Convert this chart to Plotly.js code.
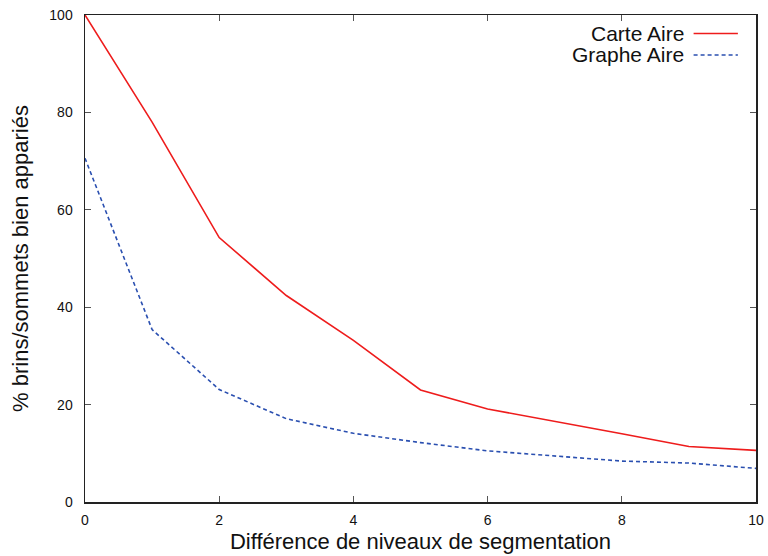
<!DOCTYPE html>
<html><head><meta charset="utf-8">
<script src="https://cdn.plot.ly/plotly-3.0.1.min.js"></script>
<style>body{margin:0;background:#fff}#c{width:768px;height:556px}</style>
</head><body><div id="c"></div>
<script>
const niveaux = [0,1,2,3,4,5,6,7,8,9,10];
const carteAire = [100,78,54.3,42.4,33.2,23,19.1,16.6,14,11.4,10.6];
const grapheAire = [70.6,35.4,23.1,17.1,14.1,12.2,10.5,9.5,8.4,8.0,6.9];
const xTicks = [0,2,4,6,8,10];
const yTicks = [0,20,40,60,80,100];

const font = {family:'"Liberation Sans", Arial, sans-serif', color:'#111'};
const traces = [
  {x:niveaux, y:carteAire, mode:'lines', name:'Carte Aire', line:{color:'#ee1c1c', width:1.6}, showlegend:false},
  {x:niveaux, y:grapheAire, mode:'lines', name:'Graphe Aire', line:{color:'#2a4fb0', width:1.6, dash:'4px,3px'}, showlegend:false}
];
const axisCommon = {showgrid:false, zeroline:false, showline:true, linecolor:'#222', linewidth:1.5,
  mirror:'ticks', ticks:'inside', ticklen:6, tickwidth:1, tickcolor:'#555', tickfont:{...font, size:14}, automargin:false};
const layout = {
  width:768, height:556,
  margin:{l:85, r:12, t:15, b:54},
  paper_bgcolor:'#fff', plot_bgcolor:'#fff',
  font:font,
  xaxis:{...axisCommon, range:[0,10], tickvals:xTicks, ticktext:xTicks.map(String), ticklabelstandoff:5,
    title:{text:'Différence de niveaux de segmentation', font:{...font, size:22}, standoff:6}},
  yaxis:{...axisCommon, range:[0,100], tickvals:yTicks, ticktext:yTicks.map(String), ticklabelstandoff:8,
    title:{text:'% brins/sommets bien appariés', font:{...font, size:22}, standoff:14}},
  annotations:[
    {xref:'paper', yref:'paper', x:0.896, y:0.962, xanchor:'right', yanchor:'middle', showarrow:false,
     text:'Carte Aire', font:{...font, size:21}},
    {xref:'paper', yref:'paper', x:0.896, y:0.918, xanchor:'right', yanchor:'middle', showarrow:false,
     text:'Graphe Aire', font:{...font, size:21}}
  ],
  shapes:[
    {type:'line', xref:'paper', yref:'paper', x0:0.907, x1:0.973, y0:0.962, y1:0.962, line:{color:'#ee1c1c', width:1.6}},
    {type:'line', xref:'paper', yref:'paper', x0:0.907, x1:0.973, y0:0.918, y1:0.918, line:{color:'#2a4fb0', width:1.6, dash:'4px,3px'}}
  ]
};
Plotly.newPlot('c', traces, layout, {displayModeBar:false, staticPlot:true});
</script></body></html>
